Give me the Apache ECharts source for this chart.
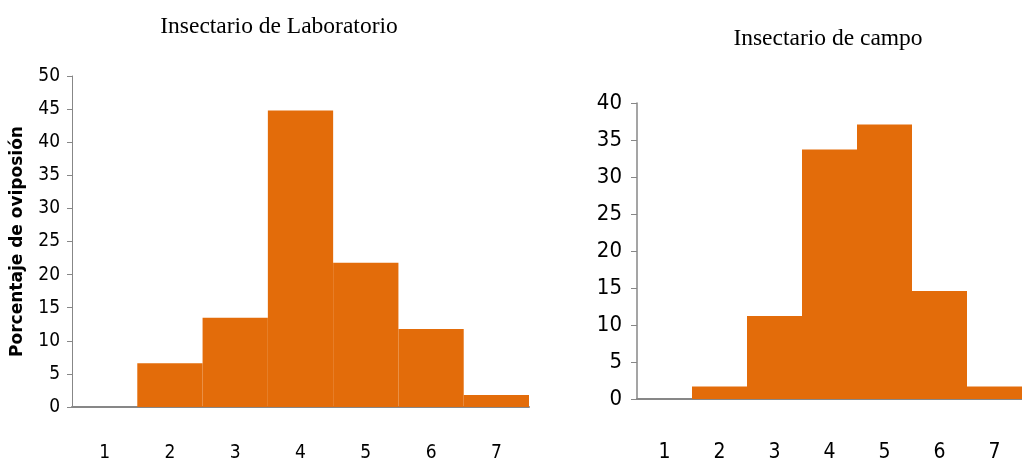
<!DOCTYPE html>
<html>
<head>
<meta charset="utf-8">
<script src="https://cdn.jsdelivr.net/npm/echarts@6/dist/echarts.min.js"></script>
<style>
html,body{margin:0;padding:0;background:#fff;}
#chart{width:1022px;height:463px;}
</style>
</head>
<body>
<div id="chart"></div>
<script>
const categories = ['1','2','3','4','5','6','7'];
const labValues = [0, 6.6, 13.5, 44.8, 21.8, 11.8, 1.8];
const campoValues = [0, 1.7, 11.2, 33.7, 37.1, 14.6, 1.7];
const labTitle = 'Insectario de Laboratorio';
const campoTitle = 'Insectario de campo';
const yName = 'Porcentaje de oviposión';

const tickFont = '"DejaVu Sans", sans-serif';
const tickWeight = 'normal condensed';
const barColor = '#E36C0A';
const axisGray = '#878787';

const chart = echarts.init(document.getElementById('chart'), null, {renderer: 'canvas'});
chart.setOption({
  animation: false,
  backgroundColor: '#fff',
  title: [
    {text: labTitle, left: 274, top: 10, textAlign: 'center',
     textStyle: {fontFamily: '"Liberation Serif", serif', fontSize: 23.5, fontWeight: 'normal', color: '#000'}},
    {text: campoTitle, left: 823, top: 22, textAlign: 'center',
     textStyle: {fontFamily: '"Liberation Serif", serif', fontSize: 23.5, fontWeight: 'normal', color: '#000'}}
  ],
  grid: [
    {left: 72, top: 76, width: 457, height: 335, containLabel: false},
    {left: 637, top: 103, width: 398, height: 299, containLabel: false}
  ],
  xAxis: [
    {type: 'category', gridIndex: 0, data: categories,
     axisLine: {lineStyle: {color: axisGray, width: 2}}, axisTick: {show: false},
     axisLabel: {color: '#000', fontFamily: tickFont, fontWeight: tickWeight, fontSize: 19, margin: 37}},
    {type: 'category', gridIndex: 1, data: categories,
     axisLine: {lineStyle: {color: axisGray, width: 2}}, axisTick: {show: false},
     axisLabel: {color: '#000', fontFamily: tickFont, fontWeight: tickWeight, fontSize: 21, margin: 43}}
  ],
  yAxis: [
    {type: 'value', gridIndex: 0, min: 0, max: 50, interval: 5,
     name: yName, nameLocation: 'middle', nameRotate: 90, nameGap: 46,
     nameTextStyle: {fontFamily: '"DejaVu Sans", sans-serif', fontWeight: 'bold', fontSize: 17, color: '#000'},
     axisLine: {show: true, lineStyle: {color: axisGray, width: 1}},
     axisTick: {show: true, length: 5, lineStyle: {color: axisGray}},
     splitLine: {show: false},
     axisLabel: {color: '#000', fontFamily: tickFont, fontWeight: tickWeight, fontSize: 19, margin: 12}},
    {type: 'value', gridIndex: 1, min: 0, max: 40, interval: 5,
     axisLine: {show: true, lineStyle: {color: axisGray, width: 1.5}},
     axisTick: {show: true, length: 6, lineStyle: {color: axisGray}},
     splitLine: {show: false},
     axisLabel: {color: '#000', fontFamily: tickFont, fontWeight: tickWeight, fontSize: 22, margin: 15}}
  ],
  series: [
    {type: 'bar', xAxisIndex: 0, yAxisIndex: 0, data: labValues,
     barCategoryGap: '0%', itemStyle: {color: barColor}},
    {type: 'bar', xAxisIndex: 1, yAxisIndex: 1, data: campoValues,
     barCategoryGap: '0%', itemStyle: {color: barColor}}
  ]
});
</script>
</body>
</html>
